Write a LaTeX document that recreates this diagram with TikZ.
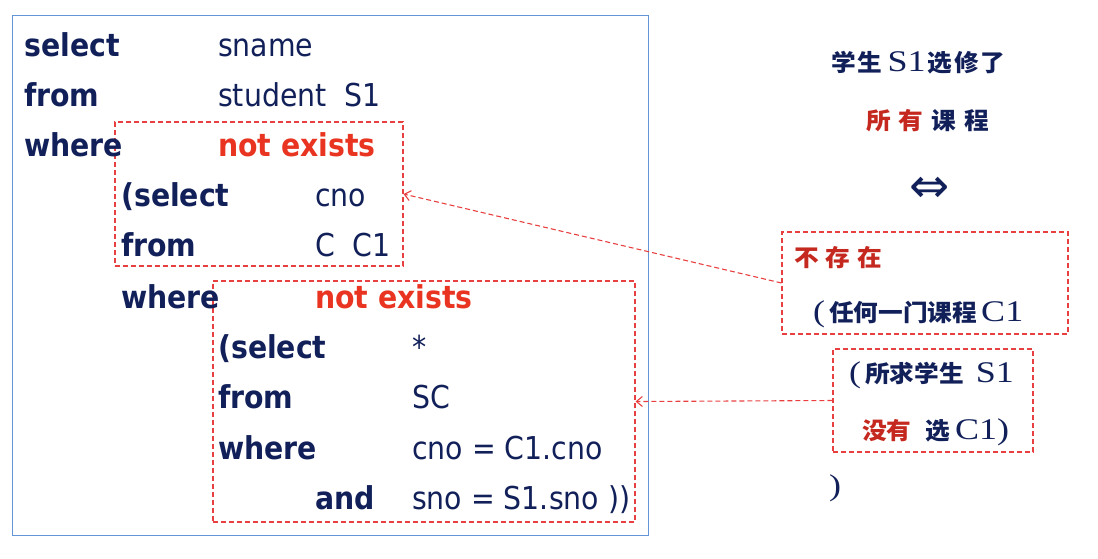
\documentclass[tikz,border=0pt]{standalone}
\usepackage{fontspec}
\setmainfont{DejaVu Sans Condensed}
\newfontfamily\cjk{Noto Sans CJK SC}[FakeStretch=1.05]
\newfontfamily\ser{Liberation Serif}[FakeStretch=1.2]
\newfontfamily\sym{DejaVu Sans}
\usetikzlibrary{arrows.meta}
\newcommand{\lat}[1]{{\ser\mdseries\fontsize{30}{30}\selectfont #1}}
\newlength\gap
\newcommand{\g}{\hspace{\gap}}
\definecolor{navy}{RGB}{18,32,90}
\definecolor{kwred}{RGB}{232,52,32}
\definecolor{cred}{RGB}{196,40,30}
\definecolor{dred}{RGB}{232,64,64}
\definecolor{bframe}{RGB}{100,150,215}
\begin{document}
\begin{tikzpicture}[x=1pt,y=-1pt,
  code/.style={anchor=base west,inner sep=0pt,text=navy,font=\fontsize{31.5}{31.5}\selectfont},
  kw/.style={code,font=\fontsize{31.5}{31.5}\selectfont\bfseries},
  nx/.style={kw,text=kwred},
  dbox/.style={draw=dred,line width=1.1pt,dash pattern=on 5pt off 3pt,inner sep=0pt},
  cn/.style={inner sep=0pt,anchor=west,text=navy,font=\fontsize{23.5}{23.5}\selectfont\cjk\bfseries},
  conn/.style={draw=dred,line width=1.1pt,dash pattern=on 5pt off 3pt,-{Straight Barb[length=6pt,width=10pt]}}]
\useasboundingbox (0,0) rectangle (1098,558);
% outer frame
\node (frame) [draw=bframe,line width=1pt,minimum width=636pt,minimum height=520pt,inner sep=0pt] at (330,275) {};
% dashed boxes
\node (b1) [dbox,minimum width=288pt,minimum height=144pt] at (259,194) {};
\node (b2) [dbox,minimum width=422pt,minimum height=241pt] at (424,401.5) {};
\node (b3) [dbox,minimum width=286pt,minimum height=102pt] at (925,283) {};
\node (b4) [dbox,minimum width=200pt,minimum height=103pt] at (933,400.5) {};
% code
\node (l1a) [kw] at (24,56) {select};
\node (l1b) [code] at (218,56) {sname};
\node (l2a) [kw] at (24,106) {from};
\node (l2b) [code] at (218,106) {student\ \ S1};
\node (l3a) [kw] at (24,156) {where};
\node (l3b) [nx] at (218,156) {not exists};
\node (l4a) [kw] at (121,206) {(select};
\node (l4b) [code] at (315,206) {cno};
\node (l5a) [kw] at (121,256) {from};
\node (l5b) [code] at (315,256) {C\ \ C1};
\node (l6a) [kw] at (121,308) {where};
\node (l6b) [nx] at (315,308) {not exists};
\node (l7a) [kw] at (218,358) {(select};
\node (l7b) [code] at (412,358) {*};
\node (l8a) [kw] at (218,408) {from};
\node (l8b) [code] at (412,408) {SC};
\node (l9a) [kw] at (218,459) {where};
\node (l9b) [code] at (412,459) {cno = C1.cno};
\node (l10a) [kw] at (315,509) {and};
\node (l10b) [code] at (412,509) {sno = S1.sno ))};
% right side
\node (r1) [cn] at (831,63) {\setlength\gap{2pt}学\g 生\hspace{5pt}\lat{S1}\hspace{2pt}选\g 修\g 了};
\node (r2) [cn] at (866,121) {\setlength\gap{8pt}{\color{cred}所\g 有}\g 课\g 程};
\node (r3) [inner sep=0pt,text=navy,font=\fontsize{48}{48}\sym] at (930,190) {⇔};
\node (r4) [cn,text=cred] at (794,258) {\setlength\gap{7pt}不\g 存\g 在};
\node (r5) [cn] at (813,314) {\setlength\gap{0pt}\lat{(}\hspace{4pt}任\g 何\g 一\g 门\g 课\g 程\hspace{4pt}\lat{C1}};
\node (r6) [cn] at (849,375) {\setlength\gap{0pt}\lat{(}\hspace{4pt}所\g 求\g 学\g 生\hspace{12pt}\lat{S1}};
\node (r7) [cn] at (862,432) {\setlength\gap{0pt}{\color{cred}没\g 有}\hspace{14pt}选\hspace{5pt}\lat{C1)}};
\node (r8) [cn] at (829,488) {\lat{)}};
% connectors
\draw[conn] (b3.west) -- (b1.east);
\draw[conn] (b4.west) -- (b2.east);
\end{tikzpicture}
\end{document}
